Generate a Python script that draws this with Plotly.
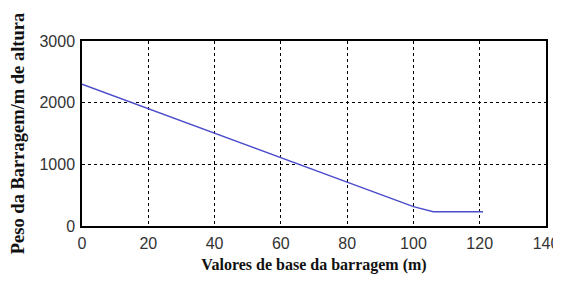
import plotly.graph_objects as go

base_m = [0, 20, 40, 60, 80, 100, 106, 121]
peso = [2300, 1905, 1505, 1110, 712, 314, 232, 232]

x_ticks = [0, 20, 40, 60, 80, 100, 120, 140]
y_ticks = [0, 1000, 2000, 3000]

fig = go.Figure()
fig.add_trace(go.Scatter(x=base_m, y=peso, mode="lines",
                         line=dict(color="#4b4bcc", width=1.5), showlegend=False))

tickfont = dict(family="Liberation Sans, Arial, sans-serif", size=16, color="#333333")
xtitlefont = dict(family="Liberation Serif, Times New Roman, serif", size=16, color="#111111")
ytitlefont = dict(family="Liberation Serif, Times New Roman, serif", size=18.5, color="#111111")

fig.update_xaxes(range=[0, 140], tickvals=x_ticks, ticktext=[str(v) for v in x_ticks],
                 showgrid=True, gridcolor="black", griddash="3px,3px", gridwidth=1,
                 showline=True, linecolor="black", linewidth=1.5, mirror=True,
                 ticks="", tickfont=tickfont, zeroline=False, automargin=False,
                 ticklabeloverflow="allow", ticklabelstandoff=2,
                 title=dict(text="<b>Valores de base da barragem (m)</b>", font=xtitlefont, standoff=9))
fig.update_yaxes(range=[0, 3000], tickvals=y_ticks, ticktext=[str(v) for v in y_ticks],
                 showgrid=True, gridcolor="black", griddash="3px,3px", gridwidth=1,
                 showline=True, linecolor="black", linewidth=1.5, mirror=True,
                 ticks="", tickfont=tickfont, zeroline=False, automargin=False,
                 ticklabelstandoff=2,
                 title=dict(text="<b>Peso da Barragem/m de altura</b>", font=ytitlefont, standoff=21))

fig.update_layout(width=553, height=266, margin=dict(l=74, r=15, t=33, b=48),
                  plot_bgcolor="white", paper_bgcolor="white")

fig.write_html("out.html")
